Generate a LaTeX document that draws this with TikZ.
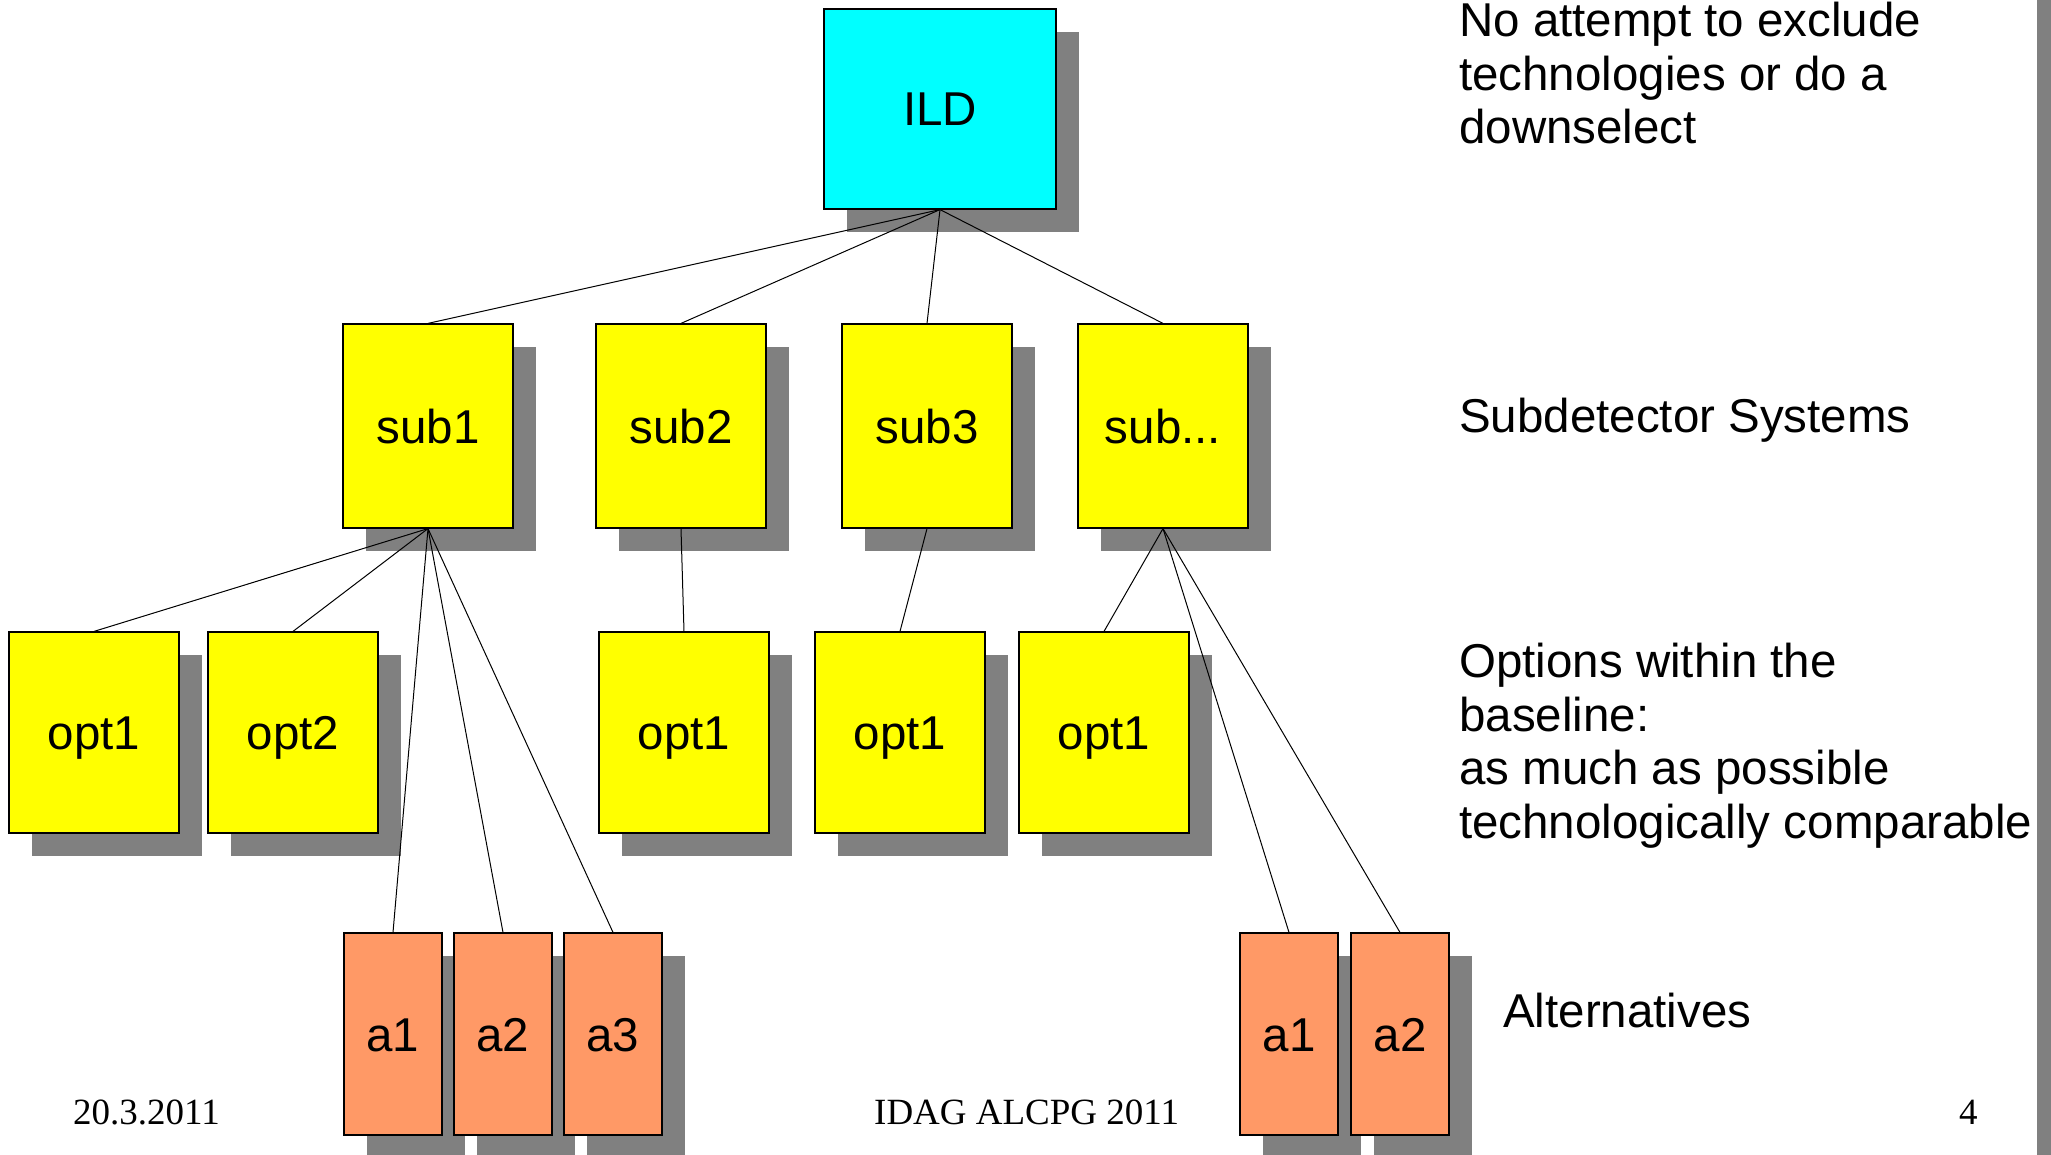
\documentclass[tikz,border=0pt]{standalone}
\usepackage{fontspec}
\newfontfamily\boxfont{Liberation Sans}
\newfontfamily\footfont{Liberation Serif}
\usetikzlibrary{shadows}
\definecolor{ildcyan}{HTML}{00FFFF}
\definecolor{subyellow}{HTML}{FFFF00}
\definecolor{altorange}{HTML}{FF9966}
\definecolor{shadegray}{HTML}{808080}
\tikzset{
  box/.style={rectangle, draw=black, line width=1.2pt, inner sep=0pt,
    font=\boxfont\fontsize{47.5pt}{53.5pt}\selectfont,
    text height=34pt, text depth=0pt,
    drop shadow={opacity=1, fill=shadegray, shadow xshift=23pt, shadow yshift=-23pt}},
  ildbox/.style={box, fill=ildcyan, minimum width=232pt, minimum height=200pt},
  subbox/.style={box, fill=subyellow, minimum width=170pt, minimum height=204pt},
  optbox/.style={box, fill=subyellow, minimum width=170pt, minimum height=201pt},
  altbox/.style={box, fill=altorange, minimum width=98pt, minimum height=202pt},
  link/.style={draw=black, line width=1pt},
  sidetext/.style={anchor=base west, inner sep=0pt, align=left,
    font=\boxfont\fontsize{47.5pt}{53.5pt}\selectfont},
  foottext/.style={anchor=base west, inner sep=0pt,
    font=\footfont\fontsize{37pt}{44pt}\selectfont}
}
\begin{document}
\begin{tikzpicture}[x=1pt, y=-1pt]
\useasboundingbox (0,0) rectangle (2051,1155);
\fill[white] (0,0) rectangle (2051,1155);
\fill[shadegray] (2037,0) rectangle (2051,1155);

% top
\node[ildbox] (ild) at (940,109) {ILD};

% subdetectors
\node[subbox] (sub1) at (428,426) {sub1};
\node[subbox] (sub2) at (681,426) {sub2};
\node[subbox] (sub3) at (927,426) {sub3};
\node[subbox] (subx) at (1163,426) {sub...};

% options
\node[optbox] (o11) at (94,732.5) {opt1};
\node[optbox] (o12) at (293,732.5) {opt2};
\node[optbox] (o21) at (684,732.5) {opt1};
\node[optbox] (o31) at (900,732.5) {opt1};
\node[optbox] (ox1) at (1104,732.5) {opt1};

% alternatives
\node[altbox] (a11) at (393,1034) {a1};
\node[altbox] (a12) at (503,1034) {a2};
\node[altbox] (a13) at (613,1034) {a3};
\node[altbox] (ax1) at (1289,1034) {a1};
\node[altbox] (ax2) at (1400,1034) {a2};

% connectors
\foreach \c in {sub1,sub2,sub3,subx} \draw[link] (ild.south) -- (\c.north);
\foreach \c in {o11,o12,a11,a12,a13} \draw[link] (sub1.south) -- (\c.north);
\draw[link] (sub2.south) -- (o21.north);
\draw[link] (sub3.south) -- (o31.north);
\foreach \c in {ox1,ax1,ax2} \draw[link] (subx.south) -- (\c.north);

% side texts (base anchor = baseline of the last line)
\node[sidetext] (t1) at (1459,144) {No attempt to exclude\\technologies or do a\\downselect};
\node[sidetext] (t2) at (1459,432) {Subdetector Systems};
\node[sidetext] (t3) at (1459,838) {Options within the\\baseline:\\as much as possible\\technologically comparable};
\node[sidetext] (t4) at (1503,1027) {Alternatives};

% footer
\node[foottext] (f1) at (73,1124) {20.3.2011};
\node[foottext] (f2) at (874,1124) {IDAG ALCPG 2011};
\node[foottext] (f3) at (1959,1124) {4};
\end{tikzpicture}
\end{document}
